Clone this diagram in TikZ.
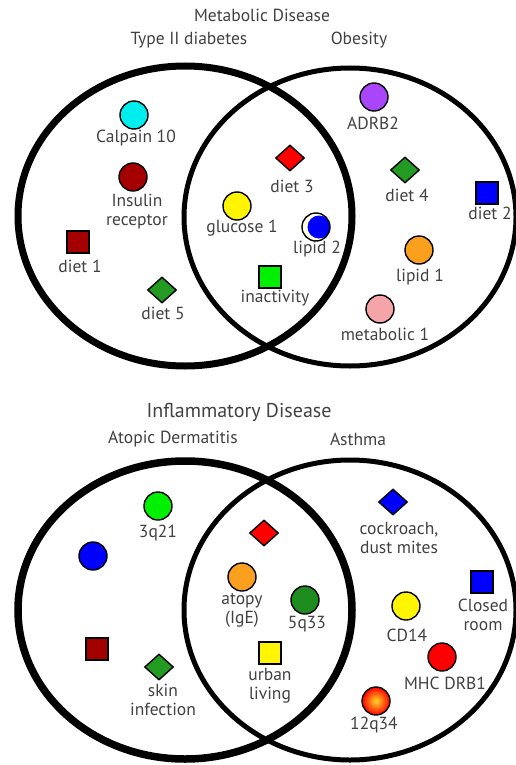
\documentclass[tikz,border=0pt]{standalone}
\usepackage{fontspec}
\setmainfont{PT Sans}
\usetikzlibrary{shapes.geometric}

\definecolor{ink}{RGB}{65,65,65}
\definecolor{aqua}{RGB}{0,238,238}
\definecolor{darkred}{RGB}{165,0,0}
\definecolor{leaf}{RGB}{35,155,35}
\definecolor{lime}{RGB}{0,240,0}
\definecolor{sun}{RGB}{255,245,0}
\definecolor{plum}{RGB}{170,70,250}
\definecolor{amber}{RGB}{250,160,30}
\definecolor{rose}{RGB}{245,165,170}
\definecolor{cream}{RGB}{255,255,225}
\definecolor{forest}{RGB}{30,140,30}
\definecolor{glow}{RGB}{255,215,40}

\begin{document}
\begin{tikzpicture}[x=1pt,y=-1pt]
  \tikzstyle{every node}=[font=\fontsize{17.5}{19}\selectfont,text=ink]
  \tikzstyle{gene}=[circle,draw=black,line width=1.4pt,minimum size=28pt,inner sep=0pt]
  \tikzstyle{env}=[rectangle,draw=black,line width=1.4pt,minimum size=22pt,inner sep=0pt]
  \tikzstyle{diet}=[diamond,draw=black,line width=1.4pt,minimum width=29pt,minimum height=26pt,inner sep=0pt]
  \tikzstyle{tag}=[align=center,inner sep=0pt]
  \useasboundingbox (0,0) rectangle (515,765);

  % metabolic disease
  \node (metab) at (262,15) {Metabolic Disease};
  \node (t2d) at (189,40) {Type II diabetes};
  \node (obes) at (359,40) {Obesity};
  \draw[line width=7pt] (185,216) ellipse [x radius=167, y radius=150];
  \draw[line width=5pt] (350,217) ellipse [x radius=166, y radius=149];

  \node[gene,fill=aqua] (capn) at (134,115) {};
  \node[tag] (capnt) at (136,138) {Calpain 10};
  \node[gene,fill=darkred] (insr) at (133,177) {};
  \node[tag] (insrt) at (137,212) {Insulin\\receptor};
  \node[env,fill=darkred] (d1) at (78,242) {};
  \node[tag] (d1t) at (80,266) {diet 1};
  \node[diet,fill=leaf] (d5) at (162,290) {};
  \node[tag] (d5t) at (163,313) {diet 5};

  \node[diet,fill=red] (d3) at (290,158) {};
  \node[tag] (d3t) at (292,186) {diet 3};
  \node[gene,fill=sun] (glu) at (237,206) {};
  \node[tag] (glut) at (242,228) {glucose 1};
  \node[gene,fill=cream,path picture={
      \fill[blue] ([xshift=3pt]path picture bounding box.center) circle (11.5);}] (lip2) at (316,227) {};
  \node[tag] (lip2t) at (317,249) {lipid 2};
  \node[env,fill=lime] (inact) at (270,277) {};
  \node[tag] (inactt) at (275,298) {inactivity};

  \node[gene,fill=plum] (adrb) at (374,97) {};
  \node[tag] (adrbt) at (373,123) {ADRB2};
  \node[diet,fill=leaf] (d4) at (405,170) {};
  \node[tag] (d4t) at (407,195) {diet 4};
  \node[env,fill=blue] (d2) at (487,193) {};
  \node[tag] (d2t) at (490,213) {diet 2};
  \node[gene,fill=amber] (lip1) at (419,250) {};
  \node[tag] (lip1t) at (420,277) {lipid 1};
  \node[gene,fill=rose] (met1) at (380,309) {};
  \node[tag] (met1t) at (385,334) {metabolic 1};

  % inflammatory disease
  \node[font=\fontsize{20}{22}\selectfont] (infl) at (239,412) {Inflammatory Disease};
  \node (ad) at (173,439) {Atopic Dermatitis};
  \node (asth) at (358,439) {Asthma};
  \draw[line width=7.5pt] (185,610) ellipse [x radius=167, y radius=149];
  \draw[line width=5pt] (350,610) ellipse [x radius=166, y radius=150];

  \node[gene,fill=lime] (q21) at (158,506) {};
  \node[tag] (q21t) at (158,533) {3q21};
  \node[gene,fill=blue] (adblue) at (93,556) {};
  \node[env,fill=darkred] (adred) at (97,649) {};
  \node[diet,fill=leaf] (skin) at (159,667) {};
  \node[tag] (skint) at (163,700) {skin\\infection};

  \node[diet,fill=red] (both) at (264,533) {};
  \node[gene,fill=amber] (ige) at (242,577) {};
  \node[tag] (iget) at (242,610) {atopy\\(IgE)};
  \node[gene,fill=forest] (q33) at (305,600) {};
  \node[tag] (q33t) at (307,624) {5q33};
  \node[env,fill=sun] (urban) at (270,653) {};
  \node[tag] (urbant) at (270,686) {urban\\living};

  \node[diet,fill=blue] (roach) at (393,502) {};
  \node[tag] (roacht) at (399,538) {cockroach,\\dust mites};
  \node[env,fill=blue] (room) at (482,582) {};
  \node[tag] (roomt) at (483,615) {Closed\\room};
  \node[gene,fill=sun] (cd14) at (406,606) {};
  \node[tag] (cd14t) at (407,635) {CD14};
  \node[gene,fill=red] (drb) at (442,657) {};
  \node[tag] (drbt) at (445,683) {MHC DRB1};
  \node[gene,inner color=glow,outer color=red] (q34) at (376,701) {};
  \node[tag] (q34t) at (374,725) {12q34};
\end{tikzpicture}
\end{document}
